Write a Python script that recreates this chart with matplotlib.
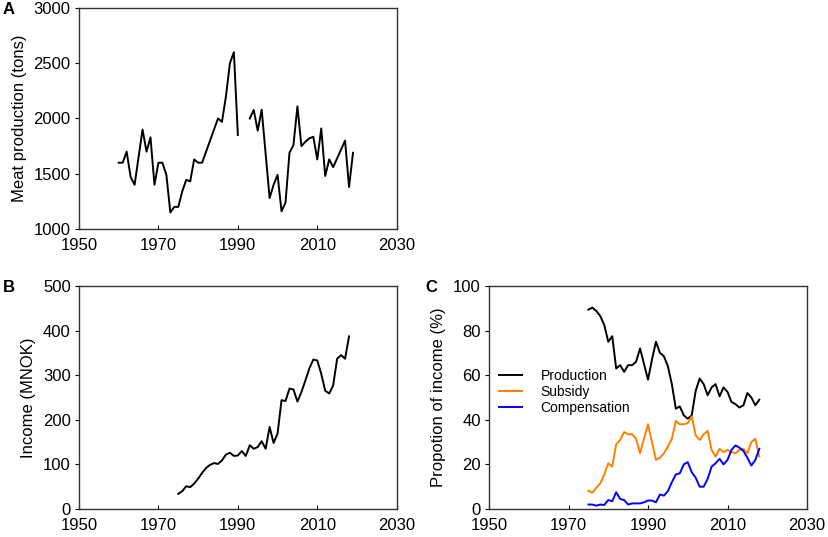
import numpy as np
import matplotlib
matplotlib.use("Agg")
import matplotlib.pyplot as plt

plt.rcParams['font.family'] = ['Liberation Sans', 'DejaVu Sans']

# Panel A: meat production (tons), gap in 1991-1992
years_a = list(range(1960, 2020))
meat = [1600, 1600, 1700, 1470, 1400, 1650, 1900, 1700, 1830, 1400,
        1600, 1600, 1490, 1150, 1200, 1200, 1340, 1445, 1430, 1630,
        1600, 1600, 1700, 1800, 1900, 2000, 1970, 2200, 2500, 2600,
        1850, np.nan, np.nan, 2000, 2077, 1890, 2080, 1680, 1280, 1400,
        1490, 1160, 1240, 1690, 1760, 2110, 1750, 1790, 1820, 1835,
        1630, 1910, 1480, 1630, 1560, 1640, 1720, 1800, 1380, 1690]

# Panel B: income (MNOK)
years_b = list(range(1975, 2019))
income = [34, 40, 51, 49, 57, 68, 81, 92, 99, 103,
          101, 109, 122, 126, 119, 120, 130, 119, 143, 135,
          139, 152, 135, 184, 148, 169, 244, 242, 270, 268,
          241, 262, 288, 315, 335, 333, 303, 265, 259, 277,
          337, 345, 337, 387]

# Panel C: proportion of income (%)
years_c = list(range(1975, 2019))
production = [89.4, 90.3, 88.8, 86.5, 82.5, 75, 77.5, 63, 64.5, 61.5,
              64.5, 64.5, 66, 72, 65, 58, 67, 75, 70, 68.5,
              64, 56, 45, 46, 42, 40.5, 42, 53, 58.5, 56,
              51, 54.5, 56, 50.5, 54.5, 52.5, 48, 47, 45.5, 46.5,
              52, 50, 46.5, 49]
subsidy = [8.2, 7.3, 9.5, 11.5, 15.5, 20.5, 19, 29, 31, 34.5,
           33.5, 33.5, 31.5, 25, 31.5, 38, 30, 22, 23, 25,
           28, 31.5, 39.5, 38, 38, 38.5, 41.5, 33, 31, 33.5,
           35, 26.5, 23.5, 27, 25.5, 26.5, 25.5, 25, 26.5, 27,
           25, 30, 31.5, 23.5]
compensation = [2, 2, 1.5, 2, 1.8, 4, 3.5, 7.5, 4.5, 4,
                2, 2.5, 2.5, 2.5, 3, 3.8, 3.8, 3, 6.5, 6,
                8, 12, 15.5, 16, 20, 21, 16.5, 14, 10, 10,
                13.5, 19, 20.5, 22.5, 20, 22, 26.5, 28.5, 27.5, 26,
                23, 19.5, 22, 27]

xticks = [1950, 1970, 1990, 2010, 2030]

fig = plt.figure(figsize=(8.29, 5.37), dpi=100)
W, H = 829, 537

def mkax(l, t, r, b):
    return fig.add_axes([l / W, 1 - b / H, (r - l) / W, (b - t) / H])

axA = mkax(79, 8, 396.7, 229)
axB = mkax(79, 286, 396.7, 509)
axC = mkax(489, 286, 807, 509)

lw = 1.4
axA.plot(years_a, meat, color='black', lw=lw)
axB.plot(years_b, income, color='black', lw=lw)
axC.plot(years_c, production, color='black', lw=lw, label='Production')
axC.plot(years_c, subsidy, color='#ff7f00', lw=lw, label='Subsidy')
axC.plot(years_c, compensation, color='#0000ff', lw=lw, label='Compensation')

fs_lab = 12
axA.set_ylim(1000, 3000)
axA.set_yticks([1000, 1500, 2000, 2500, 3000])
axA.set_ylabel('Meat production (tons)', fontsize=fs_lab, labelpad=5)
axB.set_ylim(0, 500)
axB.set_yticks([0, 100, 200, 300, 400, 500])
axB.set_ylabel('Income (MNOK)', fontsize=fs_lab, labelpad=5)
axC.set_ylim(0, 100)
axC.set_yticks([0, 20, 40, 60, 80, 100])
axC.set_ylabel('Propotion of income (%)', fontsize=fs_lab, labelpad=5)

for ax in (axA, axB, axC):
    ax.set_xlim(1950, 2030)
    ax.set_xticks(xticks)
    ax.tick_params(axis='x', direction='in', length=3, labelsize=12, pad=6.5)
    ax.tick_params(axis='y', direction='out', length=3, labelsize=12, pad=3)
    for s in ax.spines.values():
        s.set_linewidth(1.0)
        s.set_color('#333333')

leg = axC.legend(loc='center left', bbox_to_anchor=(0.0, 0.525), frameon=False,
                 fontsize=10, handlelength=1.7, handletextpad=1.3,
                 labelspacing=0.12, borderaxespad=0.3)

fig.text(3 / W, 1 - 9 / H, 'A', fontsize=12, fontweight='bold', va='center', ha='left')
fig.text(3 / W, 1 - 287 / H, 'B', fontsize=12, fontweight='bold', va='center', ha='left')
fig.text(425 / W, 1 - 287 / H, 'C', fontsize=12, fontweight='bold', va='center', ha='left')

fig.savefig('out.png', dpi=100)
